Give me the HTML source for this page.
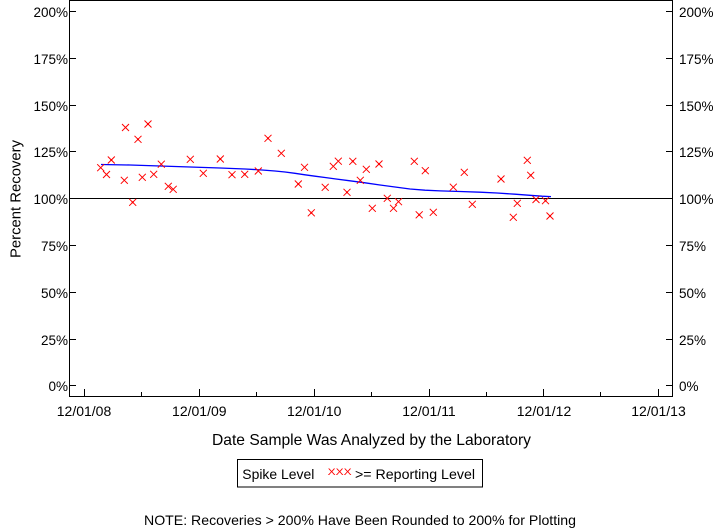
<!DOCTYPE html>
<html><head><meta charset="utf-8"><style>
html,body{margin:0;padding:0;background:#fff;}
svg{display:block;font-family:"Liberation Sans",Arial,sans-serif;}
</style></head><body>
<svg width="720" height="528" viewBox="0 0 720 528" xmlns="http://www.w3.org/2000/svg">
<rect x="0" y="0" width="720" height="528" fill="#fff"/>
<!-- frame -->
<rect x="69.5" y="0.5" width="603" height="396" fill="none" stroke="#000" stroke-width="1"/>
<!-- 100% line -->
<line x1="69.5" y1="198.5" x2="672.5" y2="198.5" stroke="#000" stroke-width="1"/>
<!-- y ticks -->
<g stroke="#000" stroke-width="1" shape-rendering="crispEdges">
<line x1="69" y1="11.5" x2="76" y2="11.5"/><line x1="666" y1="11.5" x2="672" y2="11.5"/>
<line x1="69" y1="58.5" x2="76" y2="58.5"/><line x1="666" y1="58.5" x2="672" y2="58.5"/>
<line x1="69" y1="105.5" x2="76" y2="105.5"/><line x1="666" y1="105.5" x2="672" y2="105.5"/>
<line x1="69" y1="151.5" x2="76" y2="151.5"/><line x1="666" y1="151.5" x2="672" y2="151.5"/>
<line x1="69" y1="245.5" x2="76" y2="245.5"/><line x1="666" y1="245.5" x2="672" y2="245.5"/>
<line x1="69" y1="292.5" x2="76" y2="292.5"/><line x1="666" y1="292.5" x2="672" y2="292.5"/>
<line x1="69" y1="339.5" x2="76" y2="339.5"/><line x1="666" y1="339.5" x2="672" y2="339.5"/>
<line x1="69" y1="385.5" x2="76" y2="385.5"/><line x1="666" y1="385.5" x2="672" y2="385.5"/>
<!-- x ticks -->
<line x1="84.5" y1="389" x2="84.5" y2="396"/>
<line x1="141.5" y1="392" x2="141.5" y2="396"/>
<line x1="199.5" y1="389" x2="199.5" y2="396"/>
<line x1="256.5" y1="392" x2="256.5" y2="396"/>
<line x1="314.5" y1="389" x2="314.5" y2="396"/>
<line x1="371.5" y1="392" x2="371.5" y2="396"/>
<line x1="429.5" y1="389" x2="429.5" y2="396"/>
<line x1="486.5" y1="392" x2="486.5" y2="396"/>
<line x1="543.5" y1="389" x2="543.5" y2="396"/>
<line x1="600.5" y1="392" x2="600.5" y2="396"/>
<line x1="658.5" y1="389" x2="658.5" y2="396"/>
</g>
<!-- y labels -->
<g font-size="13.5" fill="#000" text-anchor="end">
<text x="68" y="17">200%</text>
<text x="68" y="64">175%</text>
<text x="68" y="111">150%</text>
<text x="68" y="157">125%</text>
<text x="68" y="204">100%</text>
<text x="68" y="251">75%</text>
<text x="68" y="298">50%</text>
<text x="68" y="345">25%</text>
<text x="68" y="391">0%</text>
</g>
<g font-size="13.5" fill="#000" text-anchor="start">
<text x="679" y="17">200%</text>
<text x="679" y="64">175%</text>
<text x="679" y="111">150%</text>
<text x="679" y="157">125%</text>
<text x="679" y="204">100%</text>
<text x="679" y="251">75%</text>
<text x="679" y="298">50%</text>
<text x="679" y="345">25%</text>
<text x="679" y="391">0%</text>
</g>
<!-- x labels -->
<g font-size="14" fill="#000" text-anchor="middle">
<text x="84" y="416">12/01/08</text>
<text x="199.3" y="416">12/01/09</text>
<text x="314.2" y="416">12/01/10</text>
<text x="429" y="416">12/01/11</text>
<text x="544" y="416">12/01/12</text>
<text x="658.5" y="416">12/01/13</text>
</g>
<!-- axis titles -->
<text x="212" y="445" font-size="16" textLength="319" lengthAdjust="spacingAndGlyphs">Date Sample Was Analyzed by the Laboratory</text>
<text transform="translate(20.5,258) rotate(-90)" x="0" y="0" font-size="15" textLength="118" lengthAdjust="spacingAndGlyphs">Percent Recovery</text>
<!-- trend -->
<polyline fill="none" stroke="#0000ff" stroke-width="1.3" points="101,164.5 130,165 160,166 190,167 220,168 245,169 262,170 275,171 285,172 295,173.3 305,174.8 315,176.2 325,177.5 336,179 350,180.8 365,182.8 380,185 395,187 410,189 425,190.2 440,190.9 460,191.5 480,192.2 497,193 515,194.2 530,195.3 542,196.2 551,196.6"/>
<!-- markers -->
<defs>
<g id="m"><path d="M-3.5,-3.5 L3.5,3.5 M-3.5,3.5 L3.5,-3.5" stroke="#ff0000" stroke-width="1" fill="none"/></g>
<g id="d"><path d="M-3.5,-3.5 L3.5,3.5 M-3.5,3.5 L3.5,-3.5" stroke="#ff0000" stroke-width="1" fill="none"/><rect x="-1" y="-1" width="2" height="2" fill="#ff0000"/></g>
</defs>
<g>
<use href="#m" x="100.7" y="167.7"/>
<use href="#m" x="106.5" y="174.5"/>
<use href="#d" x="111.3" y="160"/>
<use href="#m" x="125.5" y="127.5"/>
<use href="#m" x="124.3" y="180.3"/>
<use href="#d" x="132.7" y="202.3"/>
<use href="#d" x="138" y="139.3"/>
<use href="#m" x="142.3" y="177.3"/>
<use href="#d" x="148" y="124"/>
<use href="#m" x="153.7" y="174.3"/>
<use href="#m" x="161.3" y="164.2"/>
<use href="#m" x="168.3" y="186.3"/>
<use href="#m" x="173.2" y="189.3"/>
<use href="#m" x="190.3" y="159.3"/>
<use href="#m" x="203.3" y="173.3"/>
<use href="#d" x="220.3" y="159"/>
<use href="#d" x="232" y="174.7"/>
<use href="#d" x="244.7" y="174.3"/>
<use href="#m" x="258.3" y="171"/>
<use href="#d" x="268" y="138.3"/>
<use href="#m" x="281.3" y="153.3"/>
<use href="#d" x="298.3" y="184"/>
<use href="#m" x="304.5" y="167.3"/>
<use href="#d" x="311.3" y="212.8"/>
<use href="#m" x="325.2" y="187.3"/>
<use href="#m" x="333.3" y="166.3"/>
<use href="#m" x="338.3" y="161.2"/>
<use href="#d" x="347" y="192.3"/>
<use href="#d" x="352.8" y="161.3"/>
<use href="#m" x="360.3" y="180.3"/>
<use href="#m" x="366.3" y="169.3"/>
<use href="#m" x="372.3" y="208.3"/>
<use href="#d" x="379" y="164"/>
<use href="#m" x="387.3" y="198.3"/>
<use href="#m" x="393.5" y="208.3"/>
<use href="#m" x="398.5" y="201.7"/>
<use href="#m" x="414.3" y="161.3"/>
<use href="#d" x="419.2" y="214.8"/>
<use href="#d" x="425.3" y="170.7"/>
<use href="#m" x="433.3" y="212.3"/>
<use href="#m" x="453.3" y="187.2"/>
<use href="#m" x="464.3" y="172.3"/>
<use href="#m" x="472.3" y="204.3"/>
<use href="#d" x="501" y="179"/>
<use href="#m" x="513.3" y="217.3"/>
<use href="#m" x="517.3" y="203.3"/>
<use href="#m" x="527.3" y="160.3"/>
<use href="#d" x="530.7" y="175.3"/>
<use href="#d" x="536" y="199.5"/>
<use href="#d" x="545.5" y="200.7"/>
<use href="#d" x="550" y="216"/>
</g>
<!-- legend -->
<rect x="237.5" y="459.5" width="245" height="27.5" fill="none" stroke="#000" stroke-width="1"/>
<text x="242.3" y="479" font-size="14" textLength="72" lengthAdjust="spacingAndGlyphs">Spike Level</text>
<text x="327.7" y="475" font-size="9" fill="#ff0000" textLength="24" lengthAdjust="spacingAndGlyphs">XXX</text>
<text x="355" y="479" font-size="14" textLength="120" lengthAdjust="spacingAndGlyphs">&gt;= Reporting Level</text>
<!-- note -->
<text x="144" y="525" font-size="14" textLength="432" lengthAdjust="spacingAndGlyphs">NOTE: Recoveries &gt; 200% Have Been Rounded to 200% for Plotting</text>
</svg>
</body></html>
